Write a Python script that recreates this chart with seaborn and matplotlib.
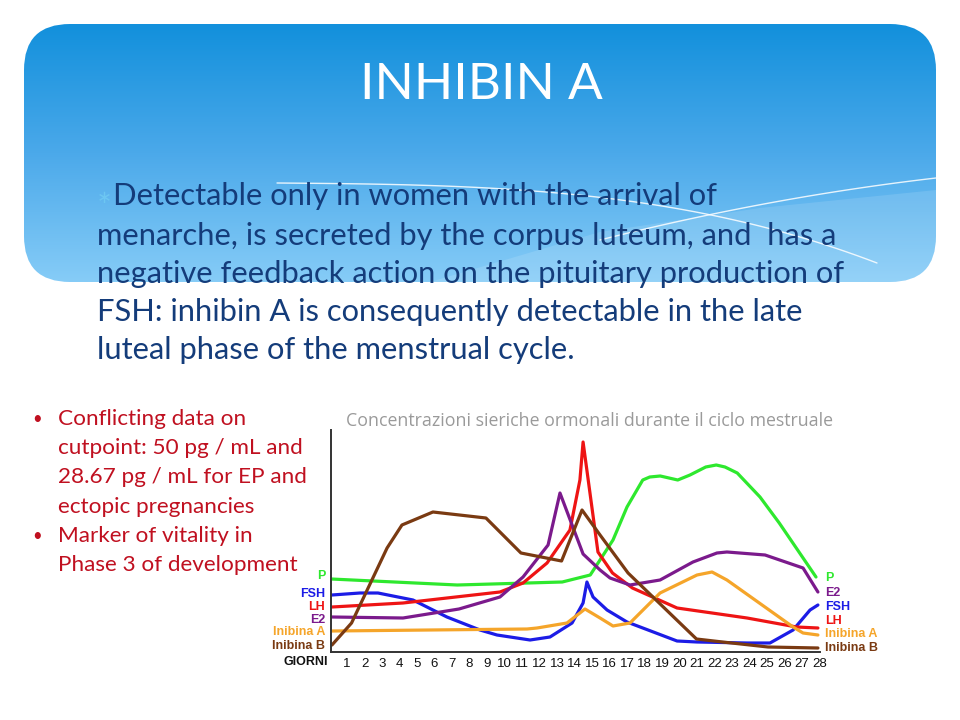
import numpy as np
import seaborn as sns
import matplotlib.pyplot as plt
from matplotlib.patches import FancyBboxPatch, Polygon
from matplotlib.colors import LinearSegmentedColormap

# ---- testo della slide ----
titolo = "INHIBIN A"
corpo = [
    "Detectable only in women with the arrival of",
    "menarche, is secreted by the corpus luteum, and  has a",
    "negative feedback action on the pituitary production of",
    "FSH: inhibin A is consequently detectable in the late",
    "luteal phase of the menstrual cycle.",
]
punti = [
    ["Conflicting data on", "cutpoint: 50 pg / mL and", "28.67 pg / mL for EP and", "ectopic pregnancies"],
    ["Marker of vitality in", "Phase 3 of development"],
]
titolo_grafico = "Concentrazioni sieriche ormonali durante il ciclo mestruale"
giorni = list(range(1, 29))

# ---- curve ormonali (giorno, livello relativo) ----
p_giorni = [0.1, 7.3, 13.3, 14.9, 16.2, 17.0, 17.9, 18.3, 18.9, 19.9, 20.6, 21.5, 22.1, 22.6, 23.3, 24.6, 25.7, 27.8]
p_val = [73, 67, 70, 77, 112, 145, 172, 175, 176, 172, 177, 185, 187, 185, 179, 155, 129, 75]

fsh_giorni = [0.14, 1.74, 2.77, 4.77, 6.71, 8.6, 9.57, 11.46, 12.6, 13.86, 14.49, 14.71, 15.06, 15.86, 17.0,
              19.86, 21.0, 23.86, 25.17, 26.49, 27.46, 27.91]
fsh_val = [57, 59, 59, 52, 35, 22, 17, 12, 15, 29, 49, 70, 55, 42, 30, 11, 10, 9, 9, 22, 42, 47]

lh_giorni = [0.14, 4.2, 6.71, 9.74, 11.06, 12.43, 13.74, 14.31, 14.49, 15.34, 16.17, 17.31, 19.86, 23.86, 26.69, 27.91]
lh_val = [45, 49, 54, 60, 69, 89, 122, 172, 210, 100, 79, 64, 44, 34, 25, 24]

e2_giorni = [0.14, 4.2, 7.4, 9.74, 11.06, 12.49, 13.17, 14.49, 15.46, 16.03, 17.17, 18.89, 20.77, 22.14, 22.71,
             24.89, 27.06, 27.91]
e2_val = [35, 34, 43, 55, 75, 107, 159, 98, 82, 74, 67, 72, 90, 99, 100, 97, 84, 60]

inha_giorni = [0.14, 11.29, 11.86, 13.57, 14.6, 15.46, 16.2, 17.17, 18.89, 21.0, 21.86, 22.71, 26.49, 27.06, 27.91]
inha_val = [21, 23, 24, 29, 43, 34, 26, 29, 59, 77, 80, 72, 25, 19, 17]

inhb_giorni = [0.14, 1.26, 3.29, 4.14, 5.91, 8.94, 10.94, 13.26, 14.43, 15.46, 17.06, 20.97, 22.46, 25.06, 27.91]
inhb_val = [7, 29, 104, 127, 140, 134, 99, 91, 142, 117, 79, 13, 10, 5, 4]

serie = [
    ("P", p_giorni, p_val, "#2ee82e"),
    ("FSH", fsh_giorni, fsh_val, "#1c1ce6"),
    ("LH", lh_giorni, lh_val, "#ee1414"),
    ("E2", e2_giorni, e2_val, "#7b1a8c"),
    ("Inibina A", inha_giorni, inha_val, "#f5a52a"),
    ("Inibina B", inhb_giorni, inhb_val, "#7a3a12"),
]
# ordine etichette a sinistra e a destra
ordine_sx = ["P", "FSH", "LH", "E2", "Inibina A", "Inibina B"]
ordine_dx = ["P", "E2", "FSH", "LH", "Inibina A", "Inibina B"]

sns.set_theme(style="white")
plt.rcParams['font.family'] = ['Lato', 'DejaVu Sans']

fig = plt.figure(figsize=(9.6, 7.2), dpi=100)
bg = fig.add_axes([0, 0, 1, 1])
bg.axis('off')

# riquadro blu con sfumatura
box = FancyBboxPatch((24, 24), 912, 258, boxstyle="round,pad=0,rounding_size=46",
                     facecolor='none', edgecolor='none')
bg.add_patch(box)
cmap = LinearSegmentedColormap.from_list("slide", ["#1290dc", "#4ba9ea", "#86ccf7"])
grad = np.linspace(0, 1, 256).reshape(-1, 1)
im = bg.imshow(grad, extent=(24, 936, 282, 24), cmap=cmap, aspect='auto', origin='upper')
im.set_clip_path(box)

# onde decorative
onda = Polygon([[430, 282], [600, 232], [760, 208], [936, 190], [936, 282]], closed=True,
               facecolor='white', alpha=0.12, edgecolor='none')
bg.add_patch(onda)
onda.set_clip_path(box)
t = np.linspace(0, 1, 60)
x1 = 277 + 600 * t
y1 = 183 + 5 * t + 75 * t ** 3
l1, = bg.plot(x1, y1, color='white', lw=1.0, alpha=0.85)
x2 = 600 + 336 * t
y2 = 240 - 85 * t + 23 * t ** 2
l2, = bg.plot(x2, y2, color='white', lw=1.0, alpha=0.85)
l1.set_clip_path(box)
l2.set_clip_path(box)

bg.set_xlim(0, 960)
bg.set_ylim(720, 0)

bg.text(481, 85, titolo, ha='center', va='center', color='white', fontsize=37)

righe_y = [196, 236, 274, 312, 350]
bg.text(97, 198, "\u2217", ha='left', va='center', color='#6cc6f2', fontsize=13)
for i, (riga, y) in enumerate(zip(corpo, righe_y)):
    bg.text(113 if i == 0 else 97, y, riga, ha='left', va='center', color='#143c7a', fontsize=22.2)

rosso = '#c01020'
y = 419
for gruppo in punti:
    bg.text(32, y, "\u2022", ha='left', va='center', color=rosso, fontsize=12)
    for riga in gruppo:
        bg.text(58, y, riga, ha='left', va='center', color=rosso, fontsize=16.2)
        y += 29.2

bg.text(590, 421, titolo_grafico, ha='center', va='center', color='#9a9a9a', fontsize=12.8,
        family=['Open Sans', 'DejaVu Sans'])

# ---- grafico ----
ax = fig.add_axes([331 / 960, 68 / 720, 489 / 960, 222 / 720])
colori = {}
for nome, gx, gv, col in serie:
    sns.lineplot(x=gx, y=gv, ax=ax, color=col, lw=2.3, sort=False)
    colori[nome] = col
ax.set_xlim(1.5 / 17.5, 490.5 / 17.5)
ax.set_ylim(0, 222)
ax.patch.set_alpha(0)
for s in ['top', 'right']:
    ax.spines[s].set_visible(False)
for s in ['left', 'bottom']:
    ax.spines[s].set_color('#333333')
    ax.spines[s].set_linewidth(1.4)
ax.set_yticks([])
ax.set_xticks(giorni)
ax.set_xticklabels([str(g) for g in giorni], family=['Liberation Sans Narrow', 'Liberation Sans', 'DejaVu Sans'],
                   fontsize=9.5, color='#111111')
ax.tick_params(axis='x', length=0, pad=4)
ax.set_xlabel("")
ax.set_ylabel("")

fam_et = ['Liberation Sans', 'DejaVu Sans']
sx_y = [576, 594, 607, 620, 632, 646]
for nome, y in zip(ordine_sx, sx_y):
    bg.text(325, y, nome, ha='right', va='center', color=colori[nome], fontsize=9,
            fontweight='bold', family=fam_et)
dx_y = [578, 593, 607, 621, 634, 648]
for nome, y in zip(ordine_dx, dx_y):
    bg.text(825, y, nome, ha='left', va='center', color=colori[nome], fontsize=9,
            fontweight='bold', family=fam_et)
bg.text(283, 662, "GIORNI", ha='left', va='center', color='#111111', fontsize=9,
        fontweight='bold', family=fam_et)

fig.savefig("out.png", dpi=100)
